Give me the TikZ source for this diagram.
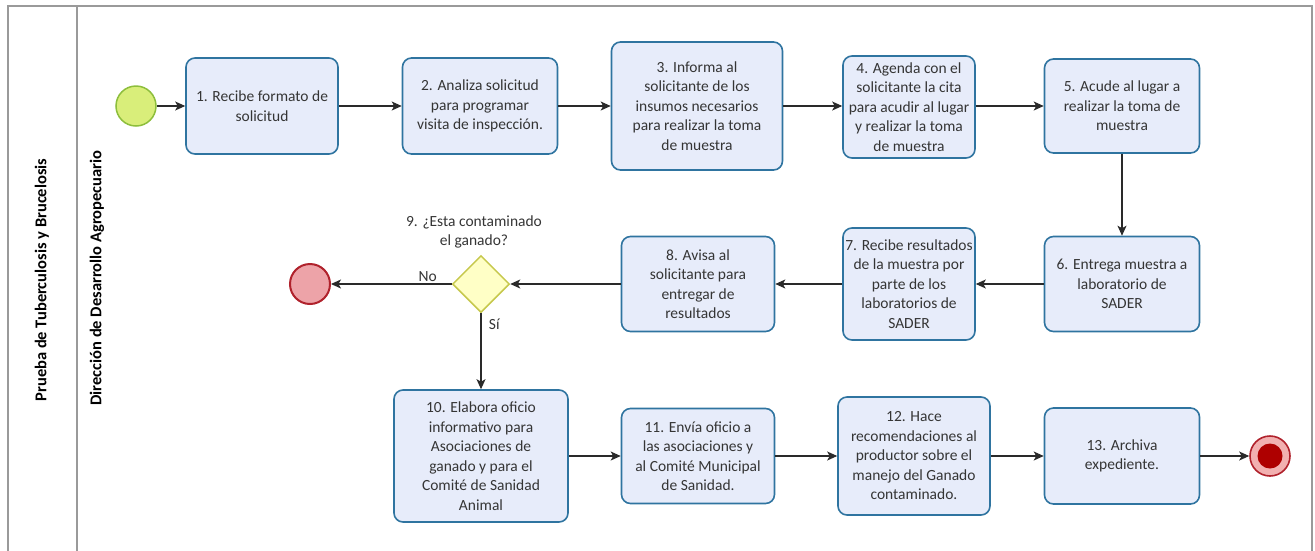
\documentclass[tikz,border=0pt]{standalone}
\usepackage{fontspec}
\setmainfont{Carlito}
\usetikzlibrary{shapes.geometric,arrows.meta}

\definecolor{taskline}{HTML}{2F74A0}
\definecolor{taskfill}{HTML}{E7ECFA}
\definecolor{startline}{HTML}{8DBE3C}
\definecolor{startfill}{HTML}{D9EE7A}
\definecolor{endline}{HTML}{B0222C}
\definecolor{endfill}{HTML}{EDA3A8}
\definecolor{termring}{HTML}{F2B0B0}
\definecolor{termcore}{HTML}{AE0000}
\definecolor{gateline}{HTML}{C6C84C}
\definecolor{gatefill}{HTML}{FFFFC6}
\definecolor{poolline}{HTML}{9A9A9A}
\definecolor{flowline}{HTML}{2A2A2A}
\definecolor{txt}{HTML}{353535}

\tikzset{
  task/.style={draw=taskline, fill=taskfill, line width=1.6pt, rounded corners=9pt,
    align=center, inner sep=0pt, text=txt,
    font=\fontsize{15.5}{19.5}\selectfont},
  startev/.style={circle, draw=startline, fill=startfill, line width=1.5pt,
    minimum size=40pt, inner sep=0pt},
  endev/.style={circle, draw=endline, fill=endfill, line width=2pt,
    minimum size=40pt, inner sep=0pt},
  termev/.style={circle, draw=endline, fill=termring, line width=1.6pt,
    minimum size=40pt, inner sep=0pt},
  gateway/.style={diamond, aspect=1, draw=gateline, fill=gatefill, line width=1.5pt,
    minimum size=57pt, inner sep=0pt},
  flow/.style={draw=flowline, line width=1.1pt,
    -{Stealth[length=10pt, width=9pt, inset=2.5pt]}},
  lbl/.style={text=txt, font=\fontsize{15.5}{19.5}\selectfont, align=center},
  lanetitle/.style={rotate=90, text=black, font=\fontsize{16.5}{19}\selectfont\bfseries},
}

\begin{document}
\begin{tikzpicture}[x=1pt, y=-1pt]
  \useasboundingbox (0,0) rectangle (1315,550);

  % pool and lane frame
  \draw[poolline, line width=1.3pt] (8,560) -- (8,6) -- (1312,6) -- (1312,560);
  \draw[poolline, line width=1.3pt] (77,6) -- (77,560);
  \node[lanetitle] (pool) at (42,280) {Prueba de Tuberculosis y Brucelosis};
  \node[lanetitle] (lane) at (97,278) {Dirección de Desarrollo Agropecuario};

  % top row
  \node[startev] (start) at (136,106) {};
  \node[task, minimum width=152pt, minimum height=96pt] (t1) at (262,106)
    {1. Recibe formato de\\solicitud};
  \node[task, minimum width=155pt, minimum height=96pt] (t2) at (480,106)
    {2. Analiza solicitud\\para programar\\visita de inspección.};
  \node[task, minimum width=171pt, minimum height=128pt] (t3) at (697,106)
    {3. Informa al\\solicitante de los\\insumos necesarios\\para realizar la toma\\de muestra};
  \node[task, minimum width=132pt, minimum height=102pt] (t4) at (909,107)
    {4. Agenda con el\\solicitante la cita\\para acudir al lugar\\y realizar la toma\\de muestra};
  \node[task, minimum width=155pt, minimum height=94pt] (t5) at (1122,106)
    {5. Acude al lugar a\\realizar la toma de\\muestra};

  % middle row
  \node[task, minimum width=155pt, minimum height=95pt] (t6) at (1122,284)
    {6. Entrega muestra a\\laboratorio de\\SADER};
  \node[task, minimum width=132pt, minimum height=112pt] (t7) at (909,284)
    {7. Recibe resultados\\de la muestra por\\parte de los\\laboratorios de\\SADER};
  \node[task, minimum width=153pt, minimum height=95pt] (t8) at (698,284)
    {8. Avisa al\\solicitante para\\entregar de\\resultados};
  \node[gateway] (g9) at (481,284) {};
  \node[lbl] (g9q) at (474,232) {9. ¿Esta contaminado\\el ganado?};
  \node[endev] (endno) at (310,284) {};

  % bottom row
  \node[task, minimum width=174pt, minimum height=132pt] (t10) at (481,456)
    {10. Elabora oficio\\informativo para\\Asociaciones de\\ganado y para el\\Comité de Sanidad\\Animal};
  \node[task, minimum width=153pt, minimum height=95pt] (t11) at (698,456)
    {11. Envía oficio a\\las asociaciones y\\al Comité Municipal\\de Sanidad.};
  \node[task, minimum width=152pt, minimum height=118pt] (t12) at (914,456)
    {12. Hace\\recomendaciones al\\productor sobre el\\manejo del Ganado\\contaminado.};
  \node[task, minimum width=155pt, minimum height=96pt] (t13) at (1122,456)
    {13. Archiva\\expediente.};
  \node[termev] (endok) at (1270,456) {};
  \node[circle, fill=termcore, minimum size=25pt, inner sep=0pt] (endcore) at (endok) {};

  % sequence flows
  \draw[flow] (start) -- (t1);
  \draw[flow] (t1) -- (t2);
  \draw[flow] (t2) -- (t3);
  \draw[flow] (t3) -- (t4.west |- t3);
  \draw[flow] (t4.east |- t5) -- (t5);
  \draw[flow] (t5) -- (t6);
  \draw[flow] (t6) -- (t7);
  \draw[flow] (t7) -- (t8);
  \draw[flow] (t8) -- (g9);
  \draw[flow] (g9) -- node[lbl, above=-1pt, pos=0.2] (lno) {No} (endno);
  \draw[flow] (g9) -- node[lbl, right=4pt, pos=0.15] (lsi) {Sí} (t10);
  \draw[flow] (t10) -- (t11);
  \draw[flow] (t11) -- (t12);
  \draw[flow] (t12) -- (t13);
  \draw[flow] (t13) -- (endok);
\end{tikzpicture}
\end{document}
